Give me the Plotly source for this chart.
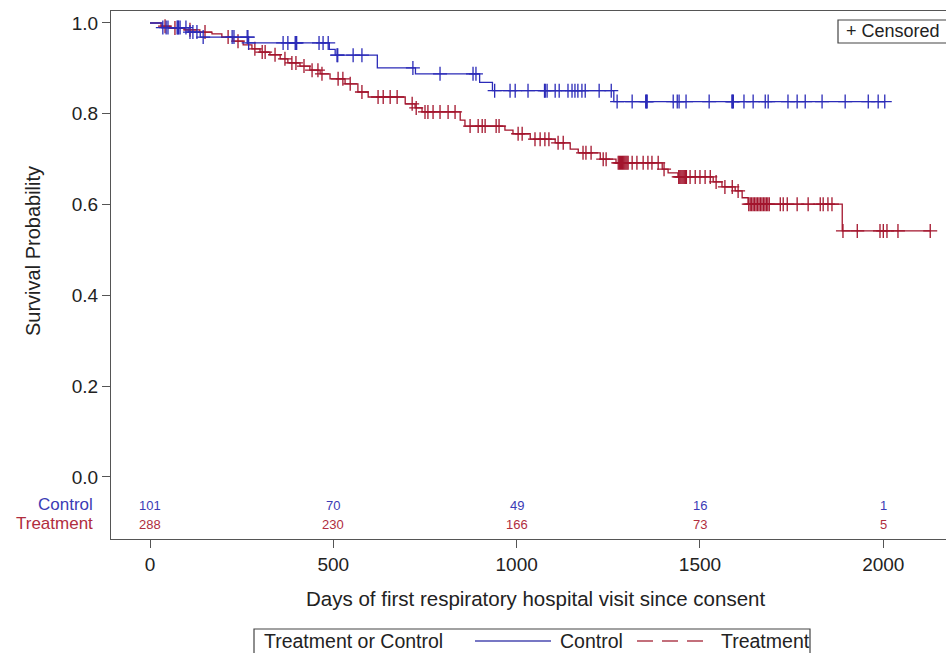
import numpy as np
import plotly.graph_objects as go

# ---------------- data ----------------
control_event_days = [33, 104, 137, 268, 489, 505, 620, 724, 899, 934, 1265]
control_event_surv = [0.990, 0.980, 0.969, 0.956, 0.942, 0.929, 0.901, 0.888, 0.869, 0.851, 0.827]
control_censor_days = [35, 44, 49, 74, 76, 78, 82, 98, 109, 117, 128, 145, 224, 229, 265, 267, 269,
                       363, 376, 396, 398, 400, 461, 472, 486, 510, 512, 554, 578, 717, 791,
                       881, 889, 940, 982, 996, 1031, 1076, 1078, 1083, 1105, 1116, 1140, 1151,
                       1159, 1167, 1178, 1187, 1225, 1258, 1274, 1315, 1352, 1354, 1356, 1427,
                       1438, 1443, 1462, 1525, 1587, 1589, 1591, 1620, 1645, 1678, 1686, 1740,
                       1765, 1787, 1833, 1896, 1959, 1986, 2004]

treat_event_days = [30, 55, 95, 136, 169, 196, 226, 254, 278, 300, 327, 355, 376, 409, 436, 464,
                    491, 532, 567, 595, 696, 723, 742, 846, 859, 968, 990, 1037, 1105, 1146,
                    1168, 1228, 1271, 1397, 1413, 1440, 1536, 1560, 1596, 1615, 1631, 1888]
treat_event_surv = [0.993, 0.989, 0.985, 0.980, 0.976, 0.969, 0.960, 0.952, 0.943, 0.936, 0.930,
                    0.921, 0.912, 0.905, 0.896, 0.888, 0.877, 0.866, 0.848, 0.837, 0.822, 0.813,
                    0.804, 0.786, 0.773, 0.764, 0.756, 0.744, 0.736, 0.722, 0.714, 0.700, 0.692,
                    0.678, 0.670, 0.661, 0.650, 0.639, 0.630, 0.615, 0.601, 0.542]
treat_censor_days = [41, 68, 109, 150, 213, 240, 286, 306, 314, 341, 368, 387, 398, 420, 442, 458,
                     469, 513, 526, 546, 578, 622, 636, 655, 674, 715, 726, 750, 758, 772, 791,
                     813, 832, 873, 895, 906, 914, 944, 952, 1004, 1015, 1050, 1064, 1077, 1088,
                     1113, 1127, 1181, 1189, 1203, 1236, 1244, 1277, 1280, 1283, 1286, 1289,
                     1292, 1295, 1298, 1301, 1304, 1315, 1328, 1345, 1358, 1369, 1386, 1402,
                     1442, 1445, 1448, 1451, 1454, 1457, 1460, 1463, 1473, 1487, 1500, 1514,
                     1528, 1544, 1568, 1588, 1604, 1633, 1637, 1641, 1645, 1649, 1653, 1657,
                     1661, 1665, 1669, 1673, 1677, 1681, 1685, 1689, 1719, 1727, 1738, 1765,
                     1795, 1828, 1836, 1849, 1860, 1890, 1929, 1991, 2000, 2010, 2040, 2128]

risk_days = [0, 500, 1000, 1500, 2000]
control_at_risk = [101, 70, 49, 16, 1]
treat_at_risk = [288, 230, 166, 73, 5]

y_ticks = [0.0, 0.2, 0.4, 0.6, 0.8, 1.0]
x_ticks = [0, 500, 1000, 1500, 2000]

BLUE = "#2b2bb8"
RED = "#a3152d"
BLUE_TXT = "#3b3bb5"
RED_TXT = "#b02d3e"
FONT = "Liberation Sans, Arial, sans-serif"


def surv_at(times, surv, t):
    idx = np.searchsorted(np.array(times), t, side="right") - 1
    return 1.0 if idx < 0 else surv[idx]


def km_traces(ev_days, ev_surv, cens_days, color, name):
    end = max(cens_days)
    x = [0] + list(ev_days) + [end]
    y = [1.0] + list(ev_surv) + [ev_surv[-1]]
    line = go.Scatter(x=x, y=y, mode="lines", line=dict(color=color, width=1.3, shape="hv"),
                      name=name, showlegend=False, hoverinfo="skip")
    cy = [surv_at(ev_days, ev_surv, t) for t in cens_days]
    marks = go.Scatter(x=cens_days, y=cy, mode="markers",
                       marker=dict(symbol="cross-thin", size=10,
                                   line=dict(color=color, width=1.3), color=color),
                       showlegend=False, hoverinfo="skip")
    return [line, marks]


fig = go.Figure()
for tr in km_traces(treat_event_days, treat_event_surv, treat_censor_days, RED, "Treatment"):
    fig.add_trace(tr)
for tr in km_traces(control_event_days, control_event_surv, control_censor_days, BLUE, "Control"):
    fig.add_trace(tr)

W, H = 946, 653
PL, PR, PT, PB = 111, 946, 11, 539   # plot area in page pixels
L, R, T, B = PL, W - PR, PT, H - PB
pw, ph = PR - PL, PB - PT


def px(xp):
    return (xp - PL) / pw


def py(yp):
    return (PB - yp) / ph


AX = "#555555"
fig.update_layout(
    width=W, height=H,
    margin=dict(l=L, r=R, t=T, b=B, pad=0),
    paper_bgcolor="white", plot_bgcolor="white",
    font=dict(family=FONT, color="#222222"),
    showlegend=False,
    xaxis=dict(range=[-106.4, 2171], tickvals=x_ticks, showgrid=False, zeroline=False,
               showline=True, linecolor=AX, linewidth=1.2, mirror=True,
               ticks="outside", ticklen=8, tickcolor=AX, tickfont=dict(size=19, color="#222")),
    yaxis=dict(range=[-0.1366, 1.0264], tickvals=y_ticks, tickformat=".1f", showgrid=False,
               zeroline=False, showline=True, linecolor=AX, linewidth=1.2, mirror=False,
               ticks="outside", ticklen=8, tickcolor=AX, tickfont=dict(size=19, color="#222")),
)

ann = []
# axis titles
ann.append(dict(text="Days of first respiratory hospital visit since consent", x=px(535), y=py(598),
                xref="paper", yref="paper", showarrow=False, font=dict(size=20.5, color="#222"),
                xanchor="center", yanchor="middle"))
ann.append(dict(text="Survival Probability", x=px(33), y=py(251), xref="paper", yref="paper",
                showarrow=False, textangle=-90, font=dict(size=20, color="#222"),
                xanchor="center", yanchor="middle"))
# at-risk table
ann.append(dict(text="Control", x=px(95), y=py(504), xref="paper", yref="paper", showarrow=False,
                xanchor="right", yanchor="middle", font=dict(size=17, color=BLUE_TXT)))
ann.append(dict(text="Treatment", x=px(95), y=py(523), xref="paper", yref="paper", showarrow=False,
                xanchor="right", yanchor="middle", font=dict(size=17, color=RED_TXT)))
for d, c, t in zip(risk_days, control_at_risk, treat_at_risk):
    ann.append(dict(text=str(c), x=d, y=py(505), xref="x", yref="paper", showarrow=False,
                    xanchor="center", yanchor="middle", font=dict(size=13, color=BLUE_TXT)))
    ann.append(dict(text=str(t), x=d, y=py(524), xref="x", yref="paper", showarrow=False,
                    xanchor="center", yanchor="middle", font=dict(size=13, color=RED_TXT)))
# censored legend
ann.append(dict(text="+ Censored", x=px(844), y=py(31.5), xref="paper", yref="paper",
                showarrow=False, xanchor="left", yanchor="middle", font=dict(size=18, color="#222")))
# bottom legend
ann.append(dict(text="Treatment or Control", x=px(262), y=py(641), xref="paper", yref="paper",
                showarrow=False, xanchor="left", yanchor="middle", font=dict(size=19.5, color="#222")))
ann.append(dict(text="Control", x=px(558), y=py(641), xref="paper", yref="paper",
                showarrow=False, xanchor="left", yanchor="middle", font=dict(size=19.5, color="#222")))
ann.append(dict(text="Treatment", x=px(719), y=py(641), xref="paper", yref="paper",
                showarrow=False, xanchor="left", yanchor="middle", font=dict(size=19.5, color="#222")))
fig.update_layout(annotations=ann)

shapes = [
    dict(type="rect", xref="paper", yref="paper", x0=px(838), x1=px(960), y0=py(43), y1=py(20),
         line=dict(color="#444", width=1.2), fillcolor="rgba(0,0,0,0)"),
    dict(type="rect", xref="paper", yref="paper", x0=px(254), x1=px(810), y0=py(670), y1=py(629),
         line=dict(color="#444", width=1.2), fillcolor="rgba(0,0,0,0)"),
    dict(type="line", xref="paper", yref="paper", x0=px(475), x1=px(551), y0=py(641), y1=py(641),
         line=dict(color="#4a4ab0", width=1.5)),
    dict(type="line", xref="paper", yref="paper", x0=px(637), x1=px(703), y0=py(641), y1=py(641),
         line=dict(color="#b04050", width=1.5, dash="16px,9px")),
]
fig.update_layout(shapes=shapes)

fig.write_html(
    "out.html",
    config={"displayModeBar": False},
    post_script="document.body.style.margin='0';document.body.style.overflow='hidden';",
)
